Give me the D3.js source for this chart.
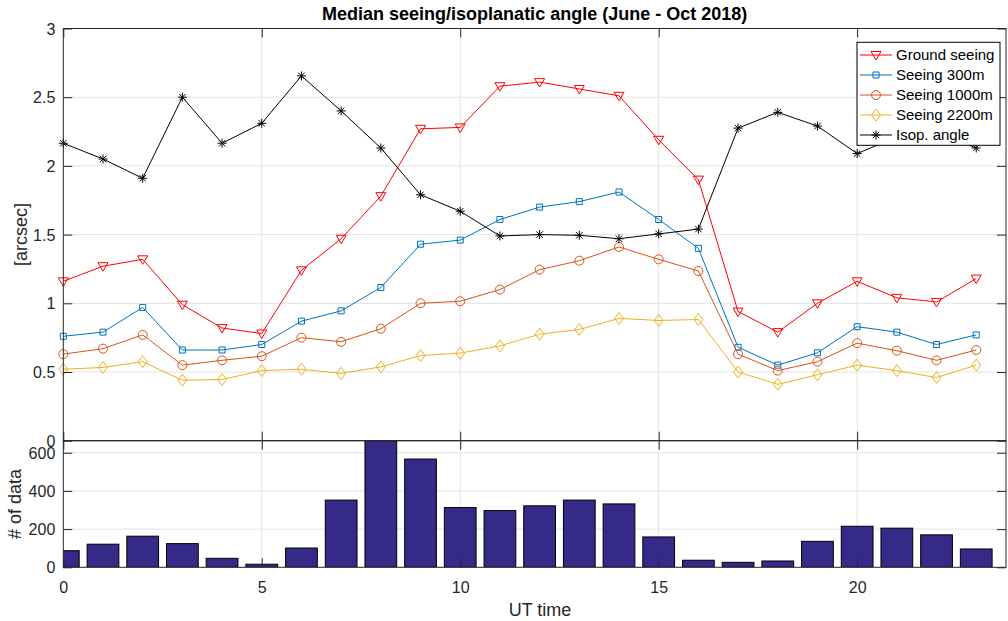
<!DOCTYPE html>
<html>
<head>
<meta charset="utf-8">
<script src="https://cdn.jsdelivr.net/npm/d3@7/dist/d3.min.js"></script>
<style>
  body { margin: 0; background: #fff; }
  svg { font-family: "Liberation Sans", Arial, sans-serif; }
  .tick text { fill: #262626; font-size: 16px; }
</style>
</head>
<body>
<div id="chart"></div>
<script>
// UT hour 0..23
const hours = d3.range(24);

const groundSeeing = [1.16, 1.27, 1.32, 0.99, 0.82, 0.78, 1.24, 1.47, 1.78, 2.27, 2.28, 2.58,
  2.61, 2.56, 2.51, 2.19, 1.90, 0.94, 0.79, 1.00, 1.16, 1.04, 1.01, 1.18];
const seeing300 = [0.76, 0.79, 0.97, 0.66, 0.66, 0.70, 0.87, 0.945, 1.115, 1.43, 1.46, 1.61,
  1.70, 1.74, 1.81, 1.61, 1.40, 0.68, 0.55, 0.64, 0.83, 0.79, 0.70, 0.77];
const seeing1000 = [0.63, 0.67, 0.77, 0.55, 0.585, 0.615, 0.75, 0.72, 0.815, 1.00, 1.015, 1.10,
  1.245, 1.31, 1.41, 1.32, 1.235, 0.63, 0.51, 0.575, 0.71, 0.655, 0.585, 0.66];
const seeing2200 = [0.52, 0.533, 0.575, 0.44, 0.445, 0.51, 0.52, 0.49, 0.537, 0.62, 0.637, 0.69,
  0.775, 0.81, 0.89, 0.875, 0.882, 0.50, 0.41, 0.48, 0.55, 0.51, 0.46, 0.55];
const isopAngle = [2.165, 2.05, 1.91, 2.50, 2.165, 2.31, 2.655, 2.40, 2.13, 1.79, 1.67, 1.49,
  1.50, 1.495, 1.47, 1.505, 1.54, 2.275, 2.39, 2.29, 2.09, 2.21, 2.25, 2.13];
const nData = [87, 121, 163, 124, 47, 16, 101, 352, 663, 567, 313, 297,
  322, 352, 332, 159, 37, 26, 33, 136, 215, 205, 170, 96];

const series = [
  { name: 'Ground seeing', values: groundSeeing, color: '#ff0000', marker: 'tri' },
  { name: 'Seeing 300m', values: seeing300, color: '#0072bd', marker: 'square' },
  { name: 'Seeing 1000m', values: seeing1000, color: '#d95319', marker: 'circle' },
  { name: 'Seeing 2200m', values: seeing2200, color: '#edb120', marker: 'diamond' },
  { name: 'Isop. angle', values: isopAngle, color: '#000000', marker: 'star' }
];

const W = 1008, H = 621;
const left = 63.3, right = 1006;
const top1 = 28.5, bot1 = 440.7, bot2 = 567.3;
const tickLen = 9;
const axisColor = '#262626', gridColor = '#e3e3e3';

const svg = d3.select('#chart').append('svg')
  .attr('width', W).attr('height', H);

const x = d3.scaleLinear().domain([0, 23.75]).range([left, right]);
const y1 = d3.scaleLinear().domain([0, 3]).range([bot1, top1]);
const y2 = d3.scaleLinear().domain([0, 663]).range([bot2, bot1]);

const xTicks = [0, 5, 10, 15, 20];

function markerPath(type) {
  switch (type) {
    case 'tri': return 'M-5,-3.5L5,-3.5L0,5Z';
    case 'square': return 'M-3,-3L3,-3L3,3L-3,3Z';
    case 'circle': return 'M4.5,0A4.5,4.5 0 1,1 -4.5,0A4.5,4.5 0 1,1 4.5,0Z';
    case 'diamond': return 'M0,-6L4.5,0L0,6L-4.5,0Z';
    case 'star': return 'M-4.5,0L4.5,0M0,-4.5L0,4.5M-3.2,-3.2L3.2,3.2M-3.2,3.2L3.2,-3.2';
  }
}

function drawGrid(g, yScale, yTicks, yTop, yBot) {
  g.selectAll('.vgrid').data(xTicks.filter(d => d > 0)).enter().append('line')
    .attr('x1', d => x(d)).attr('x2', d => x(d))
    .attr('y1', yTop).attr('y2', yBot)
    .attr('stroke', gridColor);
  g.selectAll('.hgrid').data(yTicks.filter(d => yScale(d) < yBot - 0.5 && yScale(d) > yTop + 0.5)).enter().append('line')
    .attr('x1', left).attr('x2', right)
    .attr('y1', d => yScale(d)).attr('y2', d => yScale(d))
    .attr('stroke', gridColor);
}

function drawAxes(g, yScale, yTicks, yFmt, yTop, yBot, showX) {
  const xb = g.append('g').attr('transform', `translate(0,${yBot})`)
    .call(d3.axisBottom(x).tickValues(xTicks).tickSize(-tickLen).tickPadding(14)
      .tickFormat(showX ? d3.format('d') : ''));
  const xt = g.append('g').attr('transform', `translate(0,${yTop})`)
    .call(d3.axisTop(x).tickValues(xTicks).tickSize(-tickLen).tickFormat(''));
  const yl = g.append('g').attr('transform', `translate(${left},0)`)
    .call(d3.axisLeft(yScale).tickValues(yTicks).tickSize(-tickLen).tickPadding(8).tickFormat(yFmt));
  const yr = g.append('g').attr('transform', `translate(${right},0)`)
    .call(d3.axisRight(yScale).tickValues(yTicks).tickSize(-tickLen).tickFormat(''));
  [xb, xt, yl, yr].forEach(a => {
    a.select('.domain').remove();
    a.selectAll('.tick line').attr('stroke', axisColor);
  });
  g.append('rect')
    .attr('x', left).attr('y', yTop)
    .attr('width', right - left).attr('height', yBot - yTop)
    .attr('fill', 'none').attr('stroke', axisColor).attr('stroke-width', 1);
  yl.selectAll('.tick text').attr('dy', '0.35em');
}

// ---- top panel ----
const gTop = svg.append('g');
const y1Ticks = [0, 0.5, 1, 1.5, 2, 2.5, 3];
drawGrid(gTop, y1, y1Ticks, top1, bot1);

const line = d3.line().x((d, i) => x(hours[i])).y(d => y1(d));
series.forEach(s => {
  const g = gTop.append('g');
  g.append('path').datum(s.values)
    .attr('d', line).attr('fill', 'none')
    .attr('stroke', s.color).attr('stroke-width', 1);
  g.selectAll('path.mk').data(s.values).enter().append('path')
    .attr('class', 'mk')
    .attr('transform', (d, i) => `translate(${x(hours[i])},${y1(d)})`)
    .attr('d', markerPath(s.marker))
    .attr('fill', 'none').attr('stroke', s.color).attr('stroke-width', 1);
});

drawAxes(gTop, y1, y1Ticks, d3.format('~g'), top1, bot1, false);

// legend
const lg = gTop.append('g');
lg.append('rect').attr('x', 857).attr('y', 42.3).attr('width', 143).attr('height', 103)
  .attr('fill', '#fff').attr('stroke', '#000').attr('stroke-width', 1);
series.forEach((s, i) => {
  const cy = 55 + i * 20;
  lg.append('line').attr('x1', 860).attr('x2', 892).attr('y1', cy).attr('y2', cy)
    .attr('stroke', s.color).attr('stroke-width', 1);
  lg.append('path').attr('transform', `translate(876,${cy})`)
    .attr('d', markerPath(s.marker)).attr('fill', 'none').attr('stroke', s.color);
  lg.append('text').attr('x', 896).attr('y', cy).attr('dy', '0.35em')
    .attr('font-size', 15).attr('fill', '#000').text(s.name);
});

// title
svg.append('text').attr('x', (left + right) / 2).attr('y', 20)
  .attr('text-anchor', 'middle').attr('font-size', 18).attr('font-weight', 'bold')
  .attr('fill', '#000').text('Median seeing/isoplanatic angle (June - Oct 2018)');

svg.append('text')
  .attr('transform', `translate(27,${(top1 + bot1) / 2}) rotate(-90)`)
  .attr('text-anchor', 'middle').attr('font-size', 18).attr('fill', axisColor)
  .text('[arcsec]');

// ---- bottom panel ----
const gBot = svg.append('g');
const y2Ticks = [0, 200, 400, 600];
drawGrid(gBot, y2, y2Ticks, bot1, bot2);

svg.append('clipPath').attr('id', 'clipBot')
  .append('rect').attr('x', left).attr('y', bot1).attr('width', right - left).attr('height', bot2 - bot1);

const bw = x(0.8) - x(0);
gBot.append('g').attr('clip-path', 'url(#clipBot)')
  .selectAll('rect').data(nData).enter().append('rect')
  .attr('x', (d, i) => x(hours[i]) - bw / 2)
  .attr('y', d => y2(d))
  .attr('width', bw)
  .attr('height', d => y2(0) - y2(d))
  .attr('fill', '#352a87').attr('stroke', '#000').attr('stroke-width', 1);

drawAxes(gBot, y2, y2Ticks, d3.format('d'), bot1, bot2, true);

svg.append('text')
  .attr('transform', `translate(21,${(bot1 + bot2) / 2}) rotate(-90)`)
  .attr('text-anchor', 'middle').attr('font-size', 18).attr('fill', axisColor)
  .text('# of data');

svg.append('text').attr('x', 540).attr('y', 616)
  .attr('text-anchor', 'middle').attr('font-size', 18).attr('fill', axisColor)
  .text('UT time');
</script>
</body>
</html>
